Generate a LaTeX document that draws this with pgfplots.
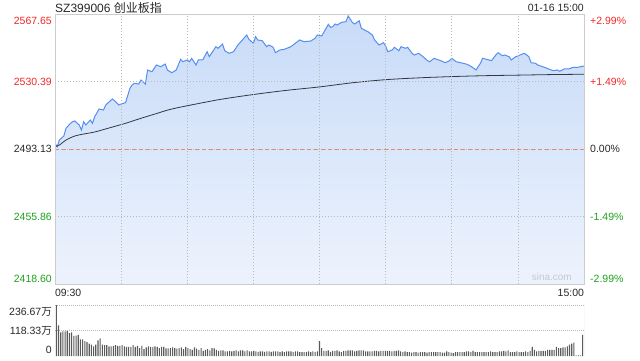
\documentclass[border=0pt]{standalone}
\usepackage{fontspec}
\setmainfont{Liberation Sans}
\newfontfamily\cjk{Noto Sans CJK SC}
\usepackage{pgfplots}
\pgfplotsset{compat=1.18}
\usepackage{pgfplotstable}

\definecolor{upred}{RGB}{240,40,40}
\definecolor{dngreen}{RGB}{30,160,30}
\definecolor{txt}{RGB}{40,40,40}
\definecolor{framec}{RGB}{204,204,204}
\definecolor{gridc}{RGB}{185,185,185}
\definecolor{linec}{RGB}{85,142,238}
\definecolor{filltop}{RGB}{200,219,248}
\definecolor{fillbot}{RGB}{237,243,253}
\definecolor{avgc}{RGB}{50,55,70}
\definecolor{zeroc}{RGB}{228,140,105}
\definecolor{volc}{RGB}{90,90,90}
\definecolor{sinac}{RGB}{200,200,200}

\newcommand\lab{\fontsize{10.5}{12}\selectfont}
\newcommand\lbl[3]{\raisebox{#1}[0pt][0pt]{\textcolor{#2}{#3}}}

\pgfplotstableread{
m p
0 2496.27
1 2494.39
2 2498.09
4 2500.30
5 2504.55
7 2507.31
8 2508.20
9 2508.58
11 2506.38
12 2503.61
13 2508.20
14 2506.38
16 2509.13
17 2507.31
18 2510.96
20 2515.20
22 2514.65
23 2517.41
26 2520.73
27 2519.79
29 2517.41
30 2517.97
32 2518.68
34 2526.63
35 2528.46
36 2529.39
38 2529.01
39 2531.22
41 2529.01
42 2536.74
44 2535.80
46 2539.50
48 2538.56
50 2540.05
51 2536.74
53 2535.24
55 2536.74
57 2542.64
58 2541.32
60 2542.26
61 2541.32
62 2543.19
64 2539.50
65 2542.26
67 2542.26
69 2546.84
70 2544.08
73 2549.60
74 2548.72
76 2551.09
77 2547.39
79 2545.95
81 2546.84
83 2550.54
85 2553.30
87 2556.06
88 2553.68
90 2551.48
91 2555.12
92 2553.30
94 2552.91
96 2549.60
97 2550.54
99 2549.27
100 2546.29
102 2547.78
104 2548.16
107 2549.60
109 2551.48
111 2553.30
113 2552.36
116 2552.74
118 2554.24
119 2556.06
121 2555.51
123 2559.76
124 2561.96
125 2560.31
126 2560.64
127 2562.13
128 2561.58
130 2563.07
132 2563.40
133 2566.55
135 2562.85
136 2562.13
138 2563.95
139 2559.76
141 2558.43
142 2557.88
144 2556.06
145 2553.30
147 2550.54
149 2551.81
150 2549.98
151 2546.84
153 2547.78
154 2549.27
156 2547.39
157 2549.60
159 2548.72
160 2549.27
162 2545.95
163 2545.02
165 2545.95
167 2544.08
169 2541.87
170 2541.32
172 2543.19
175 2541.87
177 2540.77
179 2541.87
180 2543.19
182 2541.32
184 2540.77
187 2539.88
189 2538.56
191 2536.74
193 2540.43
194 2543.19
197 2542.26
198 2541.87
200 2545.02
201 2546.29
203 2544.63
204 2545.02
206 2544.08
207 2542.26
209 2544.08
210 2544.47
212 2545.57
213 2545.95
215 2544.08
216 2540.77
218 2540.43
219 2539.50
222 2538.23
224 2537.29
226 2536.35
228 2536.74
229 2536.02
231 2537.29
233 2537.29
235 2538.23
237 2538.23
240 2538.94
}\price

\pgfplotstableread{
m a
0 2494.39
2 2495.33
5 2498.09
9 2500.30
13 2501.40
18 2502.51
24 2504.55
32 2507.31
39 2510.08
45 2512.30
52 2514.90
60 2517.00
75 2520.50
90 2523.20
105 2525.50
120 2527.40
135 2529.70
150 2531.40
165 2532.40
180 2533.10
195 2533.60
210 2533.90
225 2534.20
240 2534.40
}\avg

\pgfplotstableread{
m v
0 236
1 142
2 110
3 114
4 114
5 117
6 106
7 110
8 93
9 95
10 98
11 77
12 77
13 69
14 64
15 58
16 53
17 45
18 53
19 72
20 82
21 53
22 50
23 50
24 45
25 45
26 47
27 50
28 47
29 47
30 50
31 45
32 42
33 42
34 42
35 50
36 42
37 47
38 37
39 47
40 32
41 40
42 45
43 42
44 42
45 45
46 42
47 37
48 42
49 42
50 35
51 35
52 37
53 40
54 37
55 34
56 37
57 40
58 32
59 42
60 37
61 32
62 29
63 40
64 34
65 29
66 37
67 24
68 29
69 32
70 26
71 37
72 35
73 29
74 24
75 26
76 26
77 21
78 21
79 24
80 21
81 24
82 26
83 21
84 26
85 26
86 21
87 26
88 21
89 21
90 24
91 21
92 19
93 21
94 21
95 19
96 21
97 21
98 19
99 21
100 21
101 21
102 18
103 21
104 18
105 21
106 21
107 21
108 18
109 21
110 21
111 18
112 18
113 18
114 18
115 21
116 18
117 21
118 18
119 21
120 69
121 37
122 24
123 24
124 26
125 18
126 24
127 24
128 26
129 21
130 18
131 24
132 24
133 26
134 26
135 26
136 21
137 24
138 26
139 26
140 26
141 21
142 21
143 21
144 21
145 24
146 24
147 21
148 24
149 24
150 24
151 24
152 24
153 21
154 24
155 24
156 26
157 21
158 18
159 21
160 18
161 18
162 16
163 18
164 18
165 16
166 18
167 18
168 18
169 16
170 18
171 18
172 18
173 18
174 18
175 18
176 16
177 16
178 21
179 18
180 16
181 13
182 18
183 18
184 18
185 18
186 18
187 21
188 21
189 18
190 24
191 18
192 18
193 18
194 18
195 18
196 18
197 18
198 21
199 18
200 18
201 18
202 21
203 21
204 24
205 21
206 26
207 18
208 18
209 18
210 21
211 18
212 18
213 18
214 21
215 18
216 24
217 42
218 29
219 21
220 24
221 24
222 24
223 24
224 29
225 29
226 29
227 29
228 42
229 37
230 37
231 40
232 40
233 45
234 53
235 58
236 62
237 3
238 3
239 3
240 98
}\vol

\begin{document}
\begin{tikzpicture}[x=1pt,y=1pt]
\useasboundingbox (0,0) rectangle (640,360);

% main price axis
\begin{axis}[
  at={(55pt,76pt)}, anchor=south west,
  scale only axis, width=529pt, height=270pt,
  xmin=0, xmax=240, ymin=2418.60, ymax=2567.65,
  axis on top,
  axis line style={framec, line width=0.8pt},
  major tick length=0pt,
  xtick={0,30,60,90,120,150,180,210,240},
  xticklabels={\makebox[0pt][l]{09:30},,,,,,,,\makebox[0pt][r]{15:00}},
  xticklabel style={anchor=north, inner sep=0pt, yshift=-5pt, font=\lab, text=txt},
  ytick={2418.60,2455.86,2530.39,2567.65},
  yticklabels={\lbl{1.7pt}{dngreen}{2418.60},\lbl{-3.76pt}{dngreen}{2455.86},\lbl{-3.76pt}{upred}{2530.39},\lbl{-10.3pt}{upred}{2567.65}},
  extra y ticks={2493.13},
  extra y tick labels={\lbl{-3.76pt}{txt}{2493.13}},
  extra y tick style={grid=none},
  yticklabel style={anchor=east, inner sep=0pt, xshift=-3pt, font=\lab},
  xmajorgrids, ymajorgrids,
  grid style={gridc, line width=0.6pt, dash pattern=on 1pt off 2pt},
]
\addplot[draw=none, top color=filltop, bottom color=fillbot]
  table[x=m,y=p]{\price} -- (axis cs:240,2418.60) -- (axis cs:0,2418.60) -- cycle;
\addplot[gridc, line width=0.6pt, dash pattern=on 1pt off 2pt] coordinates {(0,2493.13) (240,2493.13)};
\addplot[zeroc, line width=0.8pt, dash pattern=on 4pt off 3pt] coordinates {(0,2493.13) (240,2493.13)};
\addplot[linec, line width=1pt] table[x=m,y=p]{\price};
\addplot[avgc, line width=0.8pt, smooth] table[x=m,y=a]{\avg};
\node[anchor=south east, font=\fontsize{10}{12}\selectfont, text=sinac, inner sep=0pt] at (rel axis cs:1,0) [xshift=-12pt, yshift=3pt] {sina.com};
\end{axis}

% right percentage labels
\begin{axis}[
  at={(55pt,76pt)}, anchor=south west,
  scale only axis, width=529pt, height=270pt,
  xmin=0, xmax=240, ymin=-2.989, ymax=2.989,
  axis line style={draw=none},
  major tick length=0pt,
  xtick=\empty,
  ytick={-2.989,-1.4945,0,1.4945,2.989},
  yticklabels={\lbl{1.7pt}{dngreen}{-2.99\%},\lbl{-3.76pt}{dngreen}{-1.49\%},\lbl{-3.76pt}{txt}{0.00\%},\lbl{-3.76pt}{upred}{+1.49\%},\lbl{-10.3pt}{upred}{+2.99\%}},
  yticklabel pos=right,
  yticklabel style={anchor=west, inner sep=0pt, xshift=6pt, font=\lab},
]
\addplot[draw=none] coordinates {(0,0)};
\end{axis}

% volume axis
\begin{axis}[
  at={(55pt,4pt)}, anchor=south west,
  scale only axis, width=529pt, height=51pt,
  xmin=-0.6, xmax=240.6, ymin=0, ymax=236.67,
  axis line style={draw=none},
  major tick length=0pt,
  xtick=\empty,
  ytick={118.33,236.67},
  yticklabels={\lbl{-3.76pt}{txt}{118.33{\cjk 万}},\lbl{-10.3pt}{txt}{236.67{\cjk 万}}},
  extra y ticks={0},
  extra y tick labels={\lbl{2.2pt}{txt}{0}},
  extra y tick style={grid=none},
  yticklabel style={anchor=east, inner sep=0pt, xshift=-3pt, font=\lab},
  ymajorgrids,
  grid style={gridc, line width=0.6pt, dash pattern=on 1pt off 1pt},
  clip=true,
]
\addplot[ybar, bar width=1.1pt, fill=volc, draw=none] table[x=m,y=v]{\vol};
\draw[framec, line width=0.8pt] (rel axis cs:1,0) -- (rel axis cs:1,1);
\end{axis}

% header
\node[anchor=base west, inner sep=0pt, text=txt, font=\fontsize{12}{14}\selectfont] at (55,347.7) {SZ399006 {\cjk 创业板指}};
\node[anchor=base east, inner sep=0pt, text=txt, font=\lab] at (584,348.3) {01-16 15:00};
\end{tikzpicture}
\end{document}
